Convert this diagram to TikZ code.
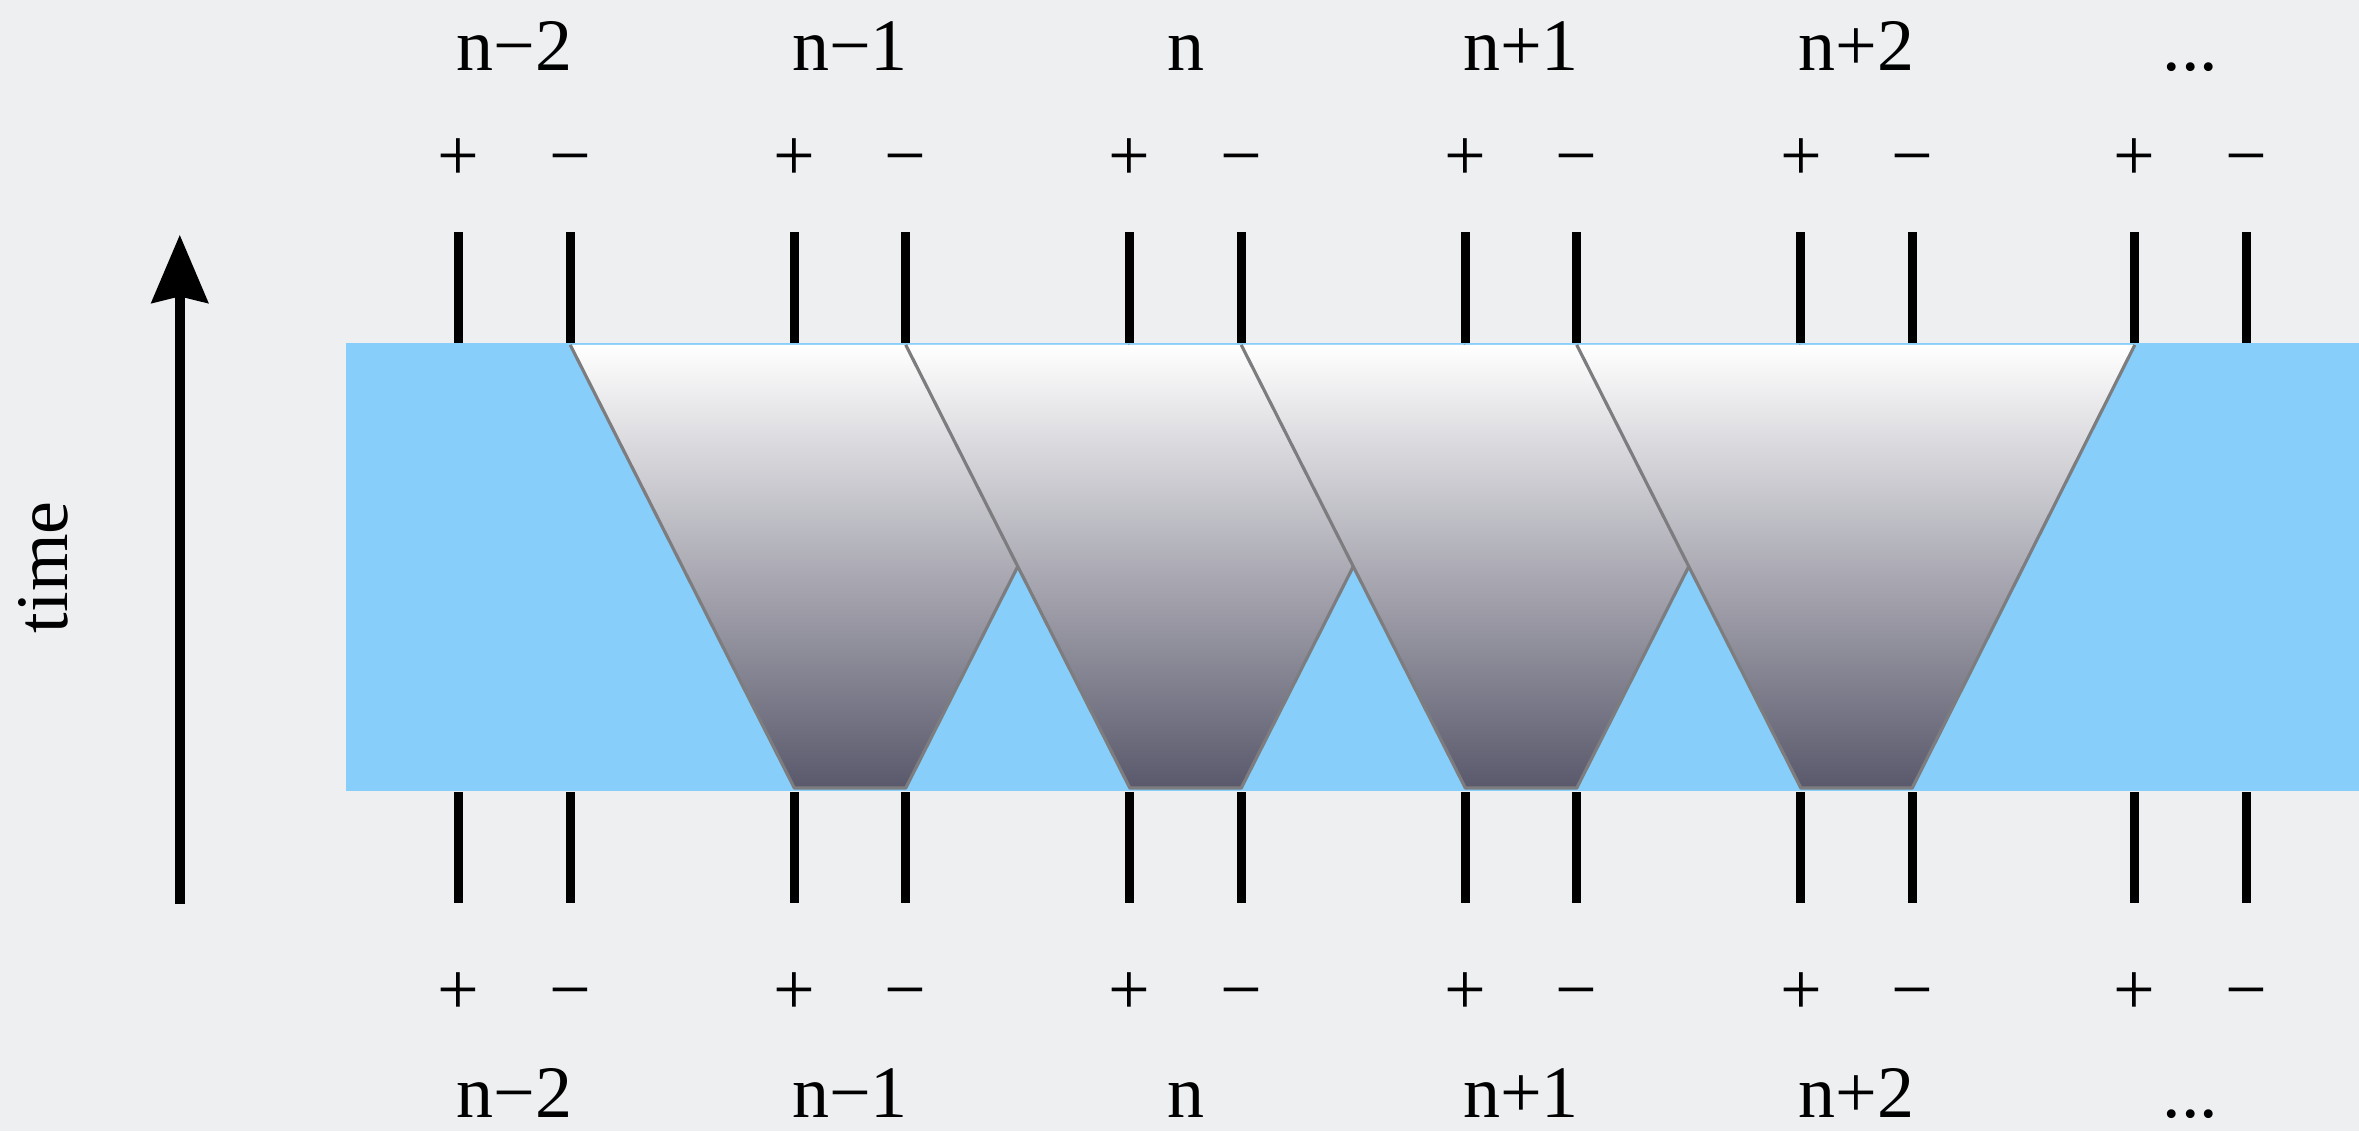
\documentclass[tikz,border=0pt]{standalone}
\usepackage{fontspec}
\setmainfont{Liberation Serif}
\usepackage{xcolor}
\usetikzlibrary{arrows.meta}

\definecolor{paper}{RGB}{238,239,241}
\definecolor{bandblue}{RGB}{135,206,250}
\definecolor{wedgedark}{RGB}{90,89,108}
\definecolor{wedgeedge}{RGB}{125,125,128}

\begin{document}
\begin{tikzpicture}[
    font=\fontsize{14}{16}\selectfont,
    lbl/.style={anchor=base, inner sep=0pt},
    sign/.style={anchor=base, inner sep=0pt},
    plate/.style={fill=black, minimum width=0.06cm, minimum height=0.74cm, inner sep=0pt},
    timeaxis/.style={line width=2pt, -{Stealth[length=0.45cm, width=0.37cm, inset=0.04cm]}},
    wedge/.style={top color=white, bottom color=wedgedark},
    wedgeline/.style={draw=wedgeedge, line width=0.6pt, line join=round},
  ]
  \useasboundingbox (0,0) rectangle (15.68,-7.52);
  \fill[paper] (0,0) rectangle (15.68,-7.52);
  % plates above the slab
  \node[plate] (p0t) at (3.05,-1.915) {};
  \node[plate] (m0t) at (3.79,-1.915) {};
  \node[plate] (p1t) at (5.28,-1.915) {};
  \node[plate] (m1t) at (6.02,-1.915) {};
  \node[plate] (p2t) at (7.51,-1.915) {};
  \node[plate] (m2t) at (8.25,-1.915) {};
  \node[plate] (p3t) at (9.74,-1.915) {};
  \node[plate] (m3t) at (10.48,-1.915) {};
  \node[plate] (p4t) at (11.97,-1.915) {};
  \node[plate] (m4t) at (12.71,-1.915) {};
  \node[plate] (p5t) at (14.19,-1.915) {};
  \node[plate] (m5t) at (14.93,-1.915) {};
  % plates below the slab
  \node[plate] (p0b) at (3.05,-5.635) {};
  \node[plate] (m0b) at (3.79,-5.635) {};
  \node[plate] (p1b) at (5.28,-5.635) {};
  \node[plate] (m1b) at (6.02,-5.635) {};
  \node[plate] (p2b) at (7.51,-5.635) {};
  \node[plate] (m2b) at (8.25,-5.635) {};
  \node[plate] (p3b) at (9.74,-5.635) {};
  \node[plate] (m3b) at (10.48,-5.635) {};
  \node[plate] (p4b) at (11.97,-5.635) {};
  \node[plate] (m4b) at (12.71,-5.635) {};
  \node[plate] (p5b) at (14.19,-5.635) {};
  \node[plate] (m5b) at (14.93,-5.635) {};
  % slab
  \fill[bandblue] (2.30,-2.28) rectangle (15.68,-5.26);
  % wedges, later ones on top
  \shade[wedge] (m0t.south) -- ([yshift=0.02cm]p1b.north) -- ([yshift=0.02cm]m1b.north) -- (p2t.south) -- cycle;
  \draw[wedgeline] (m0t.south) -- ([yshift=0.02cm]p1b.north) -- ([yshift=0.02cm]m1b.north) -- (p2t.south);
  \shade[wedge] (m1t.south) -- ([yshift=0.02cm]p2b.north) -- ([yshift=0.02cm]m2b.north) -- (p3t.south) -- cycle;
  \draw[wedgeline] (m1t.south) -- ([yshift=0.02cm]p2b.north) -- ([yshift=0.02cm]m2b.north) -- (p3t.south);
  \shade[wedge] (m2t.south) -- ([yshift=0.02cm]p3b.north) -- ([yshift=0.02cm]m3b.north) -- (p4t.south) -- cycle;
  \draw[wedgeline] (m2t.south) -- ([yshift=0.02cm]p3b.north) -- ([yshift=0.02cm]m3b.north) -- (p4t.south);
  \shade[wedge] (m3t.south) -- ([yshift=0.02cm]p4b.north) -- ([yshift=0.02cm]m4b.north) -- (p5t.south) -- cycle;
  \draw[wedgeline] (m3t.south) -- ([yshift=0.02cm]p4b.north) -- ([yshift=0.02cm]m4b.north) -- (p5t.south);
  % signs
  \node[sign] (sp0t) at (3.05,-1.20) {+};
  \node[sign] (sm0t) at (3.79,-1.20) {−};
  \node[sign] (sp1t) at (5.28,-1.20) {+};
  \node[sign] (sm1t) at (6.02,-1.20) {−};
  \node[sign] (sp2t) at (7.51,-1.20) {+};
  \node[sign] (sm2t) at (8.25,-1.20) {−};
  \node[sign] (sp3t) at (9.74,-1.20) {+};
  \node[sign] (sm3t) at (10.48,-1.20) {−};
  \node[sign] (sp4t) at (11.97,-1.20) {+};
  \node[sign] (sm4t) at (12.71,-1.20) {−};
  \node[sign] (sp5t) at (14.19,-1.20) {+};
  \node[sign] (sm5t) at (14.93,-1.20) {−};
  \node[sign] (sp0b) at (3.05,-6.74) {+};
  \node[sign] (sm0b) at (3.79,-6.74) {−};
  \node[sign] (sp1b) at (5.28,-6.74) {+};
  \node[sign] (sm1b) at (6.02,-6.74) {−};
  \node[sign] (sp2b) at (7.51,-6.74) {+};
  \node[sign] (sm2b) at (8.25,-6.74) {−};
  \node[sign] (sp3b) at (9.74,-6.74) {+};
  \node[sign] (sm3b) at (10.48,-6.74) {−};
  \node[sign] (sp4b) at (11.97,-6.74) {+};
  \node[sign] (sm4b) at (12.71,-6.74) {−};
  \node[sign] (sp5b) at (14.19,-6.74) {+};
  \node[sign] (sm5b) at (14.93,-6.74) {−};
  % cell indices
  \node[lbl] (c0t) at (3.42,-0.47) {n−2};
  \node[lbl] (c1t) at (5.65,-0.47) {n−1};
  \node[lbl] (c2t) at (7.88,-0.47) {n};
  \node[lbl] (c3t) at (10.11,-0.47) {n+1};
  \node[lbl] (c4t) at (12.34,-0.47) {n+2};
  \node[lbl] (c5t) at (14.56,-0.47) {...};
  \node[lbl] (c0b) at (3.42,-7.43) {n−2};
  \node[lbl] (c1b) at (5.65,-7.43) {n−1};
  \node[lbl] (c2b) at (7.88,-7.43) {n};
  \node[lbl] (c3b) at (10.11,-7.43) {n+1};
  \node[lbl] (c4b) at (12.34,-7.43) {n+2};
  \node[lbl] (c5b) at (14.56,-7.43) {...};
  % time axis
  \coordinate (t0) at (1.195,-6.01);
  \coordinate (t1) at (1.195,-1.56);
  \draw[timeaxis] (t0) -- (t1);
  \node[rotate=90, inner sep=0pt] (tlbl) at (0.29,-3.77) {time};
\end{tikzpicture}
\end{document}
